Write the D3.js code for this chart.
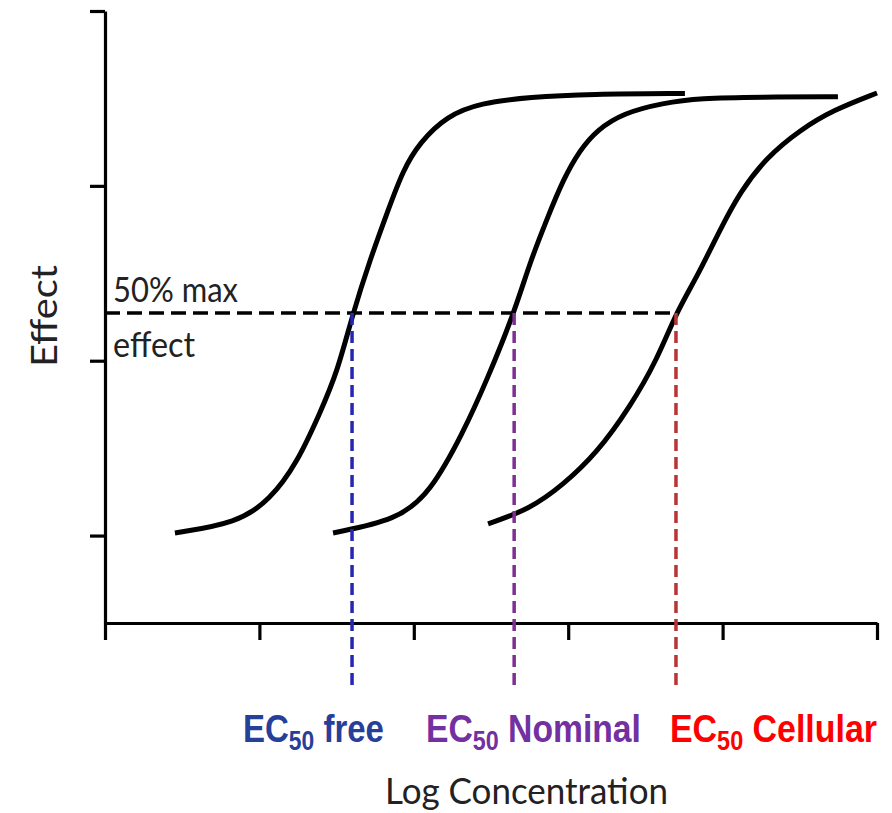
<!DOCTYPE html>
<html>
<head>
<meta charset="utf-8">
<script src="https://cdn.jsdelivr.net/npm/d3@7"></script>
<style>
  body { margin: 0; background: #fff; }
  svg { display: block; }
</style>
</head>
<body>
<svg id="chart" width="892" height="813"></svg>
<script>
// Axis ticks (log concentration units / effect units)
const xTicks = [0, 1, 2, 3, 4, 5];
const yTicks = [0, 1, 2, 3];

// Dose–response curves: [log concentration, effect]
const freeCurve = [
  [0.453, 0.015], [0.855, 0.072], [1.069, 0.204], [1.244, 0.415], [1.392, 0.701],
  [1.503, 0.930], [1.606, 1.273], [1.716, 1.576], [1.827, 1.845], [1.930, 2.091],
  [2.040, 2.250], [2.215, 2.400], [2.429, 2.474], [2.753, 2.508],
  [3.141, 2.525], [3.756, 2.528]
];
const nominalCurve = [
  [1.477, 0.015], [1.891, 0.089], [2.105, 0.243], [2.319, 0.587], [2.474, 0.890],
  [2.650, 1.273], [2.753, 1.565], [2.863, 1.811], [2.966, 2.034], [3.076, 2.205],
  [3.186, 2.319], [3.355, 2.416], [3.614, 2.474], [3.854, 2.502], [4.242, 2.508],
  [4.747, 2.510]
];
const cellularCurve = [
  [2.481, 0.067], [2.753, 0.152], [2.966, 0.289], [3.186, 0.472], [3.400, 0.735],
  [3.575, 1.004], [3.698, 1.273], [3.834, 1.479], [3.983, 1.748], [4.113, 1.965],
  [4.287, 2.165], [4.501, 2.319], [4.715, 2.433], [5.000, 2.531]
];

// EC50 markers
const ec50Names = ["free", "Nominal", "Cellular"];
const ec50Values = [1.600, 2.650, 3.698];
const ec50Colors = ["#2626b4", "#7e2f92", "#b93434"];
const ec50LabelColors = ["#26409a", "#7330a0", "#ff0000"];
const halfMaxEffect = 1.273;
const markerBottom = -0.88;

const svg = d3.select("#chart");

const x = d3.scaleLinear().domain([0, 5]).range([105, 877]);
const y = d3.scaleLinear().domain([-0.5, 3]).range([623, 11]);

// Axes
const yAxis = svg.append("g")
  .attr("transform", `translate(${x(0)},0)`)
  .call(d3.axisLeft(y).tickValues(yTicks).tickSize(15).tickSizeOuter(0).tickFormat(""));
const xAxis = svg.append("g")
  .attr("transform", `translate(0,${y(-0.5)})`)
  .call(d3.axisBottom(x).tickValues(xTicks).tickSize(17).tickSizeOuter(0).tickFormat(""));
[xAxis, yAxis].forEach(g => {
  g.selectAll("path.domain").attr("stroke", "#000").attr("stroke-width", 3.2);
  g.selectAll(".tick line").attr("stroke", "#000").attr("stroke-width", 3.2);
});

// Curves
const line = d3.line()
  .x(d => x(d[0]))
  .y(d => y(d[1]))
  .curve(d3.curveBasis);

svg.append("g")
  .selectAll("path")
  .data([freeCurve, nominalCurve, cellularCurve])
  .join("path")
  .attr("d", line)
  .attr("fill", "none")
  .attr("stroke", "#000")
  .attr("stroke-width", 5)
  .attr("stroke-linecap", "butt");

// 50% max effect line
svg.append("line")
  .attr("x1", x(0)).attr("x2", x(ec50Values[2]))
  .attr("y1", y(halfMaxEffect)).attr("y2", y(halfMaxEffect))
  .attr("stroke", "#000")
  .attr("stroke-width", 3.5)
  .attr("stroke-dasharray", "15,7");

// EC50 drop lines
svg.append("g")
  .selectAll("line")
  .data(ec50Values)
  .join("line")
  .attr("x1", d => x(d)).attr("x2", d => x(d))
  .attr("y1", y(halfMaxEffect)).attr("y2", y(markerBottom))
  .attr("stroke", (d, i) => ec50Colors[i])
  .attr("stroke-width", 3.5)
  .attr("stroke-dasharray", "12,6");

// EC50 labels, condensed horizontally to a narrow bold face
const labelX = [243, 426, 670];
const labelW = [141, 215, 207];
const labels = svg.append("g")
  .selectAll("text")
  .data(ec50Names)
  .join("text")
  .attr("x", 0)
  .attr("y", 0)
  .attr("fill", (d, i) => ec50LabelColors[i])
  .style("font-family", "'Liberation Sans', Arial, sans-serif")
  .style("font-weight", "bold")
  .style("font-size", "39px");
labels.append("tspan").text("EC");
labels.append("tspan").text("50").attr("dy", 8).style("font-size", "27px");
labels.append("tspan").text(d => "\u00a0" + d).attr("dy", -8);
labels.each(function (d, i) {
  const w = this.getBBox().width;
  d3.select(this).attr("transform", `translate(${labelX[i]},742) scale(${labelW[i] / w},1)`);
});

// Text annotations
const bodyFont = "Lato, 'Open Sans', sans-serif";
svg.append("text")
  .attr("x", 113).attr("y", 302)
  .attr("textLength", 125).attr("lengthAdjust", "spacingAndGlyphs")
  .style("font-family", bodyFont).style("font-size", "34px")
  .attr("fill", "#222")
  .text("50% max");
svg.append("text")
  .attr("x", 113).attr("y", 357)
  .attr("textLength", 82).attr("lengthAdjust", "spacingAndGlyphs")
  .style("font-family", bodyFont).style("font-size", "34px")
  .attr("fill", "#222")
  .text("effect");

svg.append("text")
  .attr("transform", "translate(57,316) rotate(-90)")
  .attr("x", -51)
  .attr("textLength", 102).attr("lengthAdjust", "spacingAndGlyphs")
  .style("font-family", bodyFont).style("font-size", "36px")
  .attr("fill", "#222")
  .text("Effect");

svg.append("text")
  .attr("x", 385).attr("y", 804)
  .attr("textLength", 283).attr("lengthAdjust", "spacingAndGlyphs")
  .style("font-family", bodyFont).style("font-size", "36px")
  .attr("fill", "#222")
  .text("Log Concentration");
</script>
</body>
</html>
